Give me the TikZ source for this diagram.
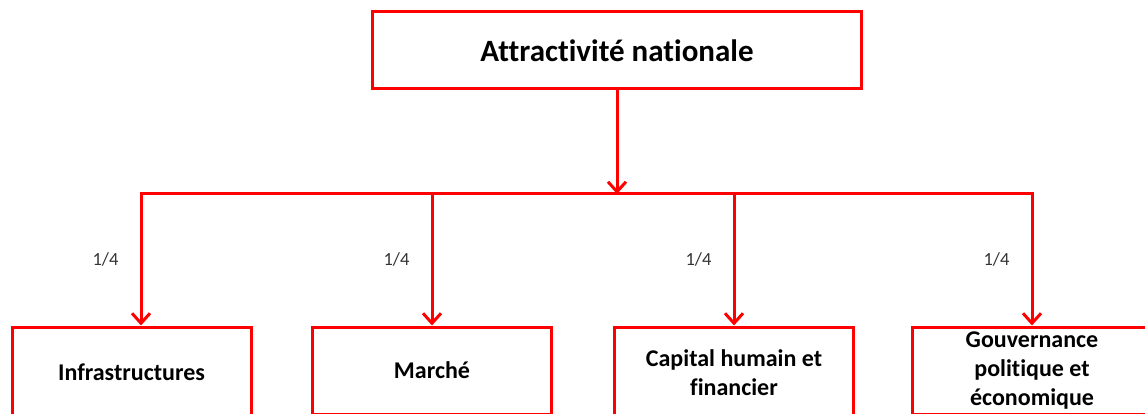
\documentclass[tikz,border=0pt]{standalone}
\usepackage{fontspec}
\setmainfont{Carlito}[Ligatures=CommonOff]
\usetikzlibrary{arrows.meta,positioning}

\tikzset{
  cadre/.style={draw=red, line width=3pt, minimum width=239pt, minimum height=87pt,
    anchor=north, align=center, inner sep=2pt,
    font=\bfseries\fontsize{24}{29}\selectfont},
  lien/.style={red, line width=3pt,
    -{Straight Barb[length=10pt,width=18pt,line width=3pt]}},
  poids/.style={font=\fontsize{18.5}{20}\selectfont, text=black!80, anchor=east, inner sep=0pt, xshift=-21pt}
}

\begin{document}
\begin{tikzpicture}[x=1pt,y=-1pt]
    \useasboundingbox (0,0) rectangle (1145,414);
    % top box
    \node[cadre, minimum width=489pt, minimum height=77pt,
          font=\bfseries\fontsize{31}{36}\selectfont] (titre) at (617,10.5) {Attractivité nationale};
    \coordinate (barre) at (617,194);
    % four criteria
    \node[cadre, minimum height=91pt] (infra) at (131.5,325.5) {Infrastructures};
    \node[cadre] (marche) at (432,325.5) {Marché};
    \node[cadre, minimum height=91pt] (capital) at (734,325.5) {Capital humain et\\financier};
    \node[cadre] (gouv) at (1032,325.5) {Gouvernance\\politique et\\économique};
    % connectors
    \draw[lien] (titre) -- (barre);
    \draw[lien] (barre) -| ([xshift=9.5pt]infra.north) node[poids, pos=0.75] {1/4};
    \draw[lien] (barre) -| (marche) node[poids, pos=0.75] {1/4};
    \draw[lien] (barre) -| (capital) node[poids, pos=0.75] {1/4};
    \draw[lien] (barre) -| (gouv) node[poids, pos=0.75] {1/4};
\end{tikzpicture}
\end{document}
